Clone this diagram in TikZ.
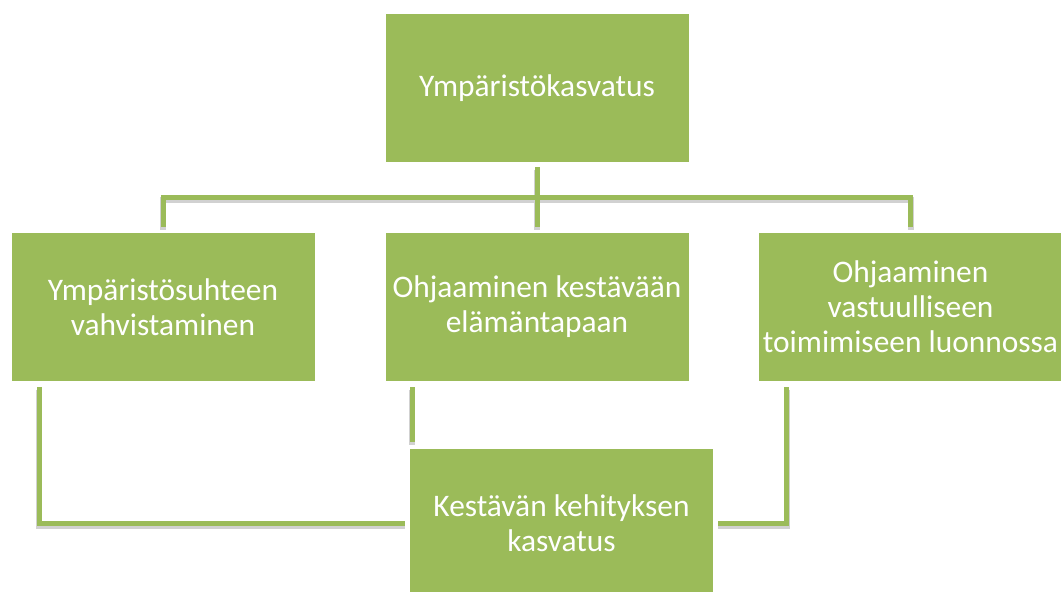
\documentclass[tikz,border=0pt]{standalone}
\usepackage{fontspec}
\setmainfont{Carlito}
\usepackage{tikz}
\usetikzlibrary{calc}
\definecolor{leafgreen}{HTML}{9BBB59}

\begin{document}
\begin{tikzpicture}[x=1pt,y=-1pt]
    % `topic' is used for all the green boxes.
    % `link' is used for the green connectors (with a soft shadow).
    \tikzstyle{topic} = [fill=leafgreen,text=white,minimum width=303pt,minimum height=148pt,inner sep=0pt,align=center,font=\fontsize{31.4}{35}\selectfont]
    \tikzstyle{link} = [draw=leafgreen,line width=5pt,line join=miter,
      preaction={draw=black!18,line width=6pt,transform canvas={yshift=-3pt}}]
    %
    \useasboundingbox (0,0) rectangle (1061,592);
    \clip (0,0) rectangle (1061,592);
    % Boxes.
    \node[topic] (env) at (537,88) {Ympäristökasvatus};
    \node[topic] (rel) at (163,307) {Ympäristösuhteen\\vahvistaminen};
    \node[topic] (life) at (537,307) {Ohjaaminen kestävään\\elämäntapaan};
    \node[topic] (nature) at (910.5,307) {Ohjaaminen\\vastuulliseen\\toimimiseen luonnossa};
    \node[topic] (sd) at (561.5,523) {Kestävän kehityksen\\kasvatus};
    \coordinate (bus) at (537,197);
    % Draw lines from the top box.
    \draw[link,shorten <=5pt] (env.south) -- (bus);
    \draw[link,shorten >=6pt] (bus) -| (rel.north);
    \draw[link,shorten >=6pt] (bus) -| (nature.north);
    \draw[link,shorten >=6pt] (bus) -- (life.north);
    % Draw lines to the bottom box.
    \draw[link,shorten <=6pt,shorten >=5pt] ([xshift=28pt]rel.south west) |- (sd.west);
    \draw[link,shorten <=6pt,shorten >=7pt] ([xshift=27pt]life.south west) -- ([xshift=27pt]life.south west |- sd.north);
    \draw[link,shorten <=6pt,shorten >=5pt] ([xshift=28pt]nature.south west) |- (sd.east);
\end{tikzpicture}
\end{document}
